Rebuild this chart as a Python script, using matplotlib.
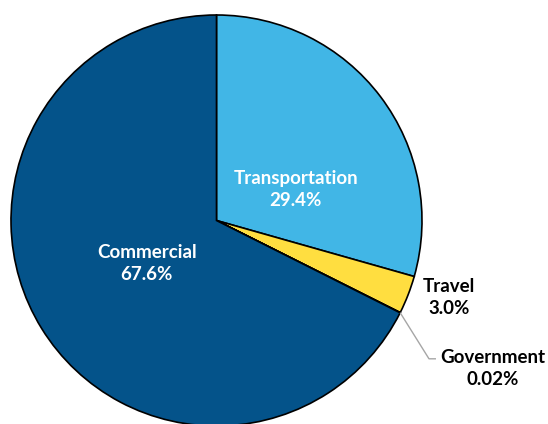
#!/usr/bin/env python3

import numpy as np
import matplotlib.pyplot as plt

categories = ["Transportation", "Travel", "Government", "Commercial"]
shares = [29.4, 3.0, 0.02, 67.6]
share_labels = ["29.4%", "3.0%", "0.02%", "67.6%"]
colors = ["#41B6E6", "#FFDE40", "#8C8C8C", "#04538A"]


def main():
    plt.rcParams['font.family'] = ['Lato', 'DejaVu Sans']
    fig = plt.figure(figsize=(5.48, 4.24), dpi=100)
    ax = fig.add_axes([11 / 548, -2 / 424, 411 / 548, 411 / 424])

    wedges, _ = ax.pie(shares, colors=colors, startangle=90, counterclock=False,
                       radius=1.0, wedgeprops=dict(edgecolor="black", linewidth=1.2))

    # labels
    fs = 13.5
    ax.text(0.385, 0.15, "{0}\n{1}".format(categories[0], share_labels[0]), color="white",
            fontsize=fs, fontweight="bold", ha="center", va="center", linespacing=1.4)
    ax.text(-0.34, -0.21, "{0}\n{1}".format(categories[3], share_labels[3]), color="white",
            fontsize=fs, fontweight="bold", ha="center", va="center", linespacing=1.4)
    ax.text(1.13, -0.375, "{0}\n{1}".format(categories[1], share_labels[1]), color="black",
            fontsize=fs, fontweight="bold", ha="center", va="center", linespacing=1.4)
    ax.text(1.345, -0.72, "{0}\n{1}".format(categories[2], share_labels[2]), color="black",
            fontsize=fs, fontweight="bold", ha="center", va="center", linespacing=1.4)

    # leader line for the tiny slice
    w = wedges[2]
    ang = np.deg2rad((w.theta1 + w.theta2) / 2)
    x0, y0 = np.cos(ang), np.sin(ang)
    ax.plot([x0, 1.034, 1.068], [y0, -0.673, -0.673], color="#A6A6A6", lw=1.0,
            solid_capstyle="butt", clip_on=False)

    ax.set_xlim(-1, 1)
    ax.set_ylim(-1, 1)
    ax.set_aspect("equal")
    ax.axis("off")

    plt.savefig("out.png", dpi=100)


if __name__ == '__main__':
    main()
